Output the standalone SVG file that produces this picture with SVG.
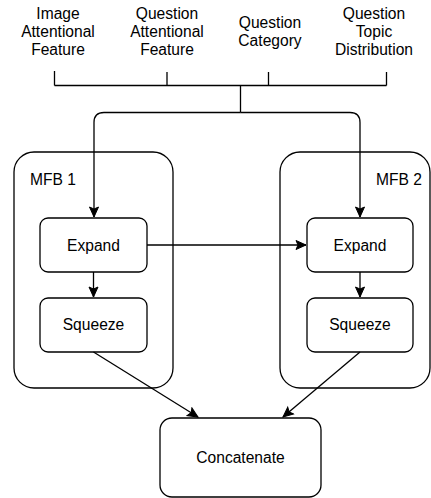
<svg xmlns="http://www.w3.org/2000/svg" width="431" height="498" viewBox="0 0 431 498">
<style>
text{font-family:"Liberation Sans",Arial,Helvetica,sans-serif;font-size:15.6px;fill:#000}
.c{text-anchor:middle}
.box{fill:#fff;stroke:#000;stroke-width:1.3}
.ln{fill:none;stroke:#000;stroke-width:1.3}
</style>
<defs>
<marker id="ah" markerUnits="userSpaceOnUse" markerWidth="12" markerHeight="12" viewBox="0 0 12 12" refX="11" refY="6" orient="auto">
<path d="M1 1.5 L11 6 L1 10.5 L3 6 Z" fill="#000" stroke="#000" stroke-width="1"/>
</marker>
</defs>
<rect width="431" height="498" fill="#fff"/>
<g id="label-image">
<text class="c" x="58" y="19">Image</text>
<text class="c" x="58" y="37">Attentional</text>
<text class="c" x="58" y="55">Feature</text>
</g>
<g id="label-question">
<text class="c" x="167" y="19">Question</text>
<text class="c" x="167" y="37">Attentional</text>
<text class="c" x="167" y="55">Feature</text>
</g>
<g id="label-category">
<text class="c" x="270" y="28">Question</text>
<text class="c" x="270" y="46">Category</text>
</g>
<g id="label-topic">
<text class="c" x="374" y="19">Question</text>
<text class="c" x="374" y="37">Topic</text>
<text class="c" x="374" y="55">Distribution</text>
</g>
<g id="mfb1">
<rect class="box" x="14" y="152" width="159" height="236" rx="20"/>
<text x="30" y="185">MFB 1</text>
</g>
<g id="mfb2">
<rect class="box" x="280" y="152" width="150" height="236" rx="20"/>
<text x="422" y="185" text-anchor="end">MFB 2</text>
</g>
<g id="expand1">
<rect class="box" x="40" y="218" width="107" height="54" rx="8"/>
<text class="c" x="93.5" y="251">Expand</text>
</g>
<g id="squeeze1">
<rect class="box" x="40" y="298" width="107" height="54" rx="8"/>
<text class="c" x="93.5" y="330">Squeeze</text>
</g>
<g id="expand2">
<rect class="box" x="307" y="218" width="106" height="54" rx="8"/>
<text class="c" x="360" y="251">Expand</text>
</g>
<g id="squeeze2">
<rect class="box" x="307" y="298" width="106" height="54" rx="8"/>
<text class="c" x="360" y="330">Squeeze</text>
</g>
<g id="concatenate">
<rect class="box" x="160" y="418" width="161" height="79" rx="12"/>
<text class="c" x="240.5" y="463">Concatenate</text>
</g>
<g id="connectors">
<path class="ln" d="M54.5 71 V85.5 M167 72 V85.5 M268.5 72 V85.5 M386.5 72 V85.5 M54.5 85.5 H386.5 M240.5 85.5 V112.5"/>
<path class="ln" d="M240.5 112.5 H104 Q94 112.5 94 122.5 V217" marker-end="url(#ah)"/>
<path class="ln" d="M240.5 112.5 H350 Q360 112.5 360 122.5 V217" marker-end="url(#ah)"/>
<path class="ln" d="M93.5 272 V297" marker-end="url(#ah)"/>
<path class="ln" d="M360 272 V297" marker-end="url(#ah)"/>
<path class="ln" d="M147 245 H306" marker-end="url(#ah)"/>
<path class="ln" d="M93.5 352 L198 417" marker-end="url(#ah)"/>
<path class="ln" d="M360 352 L283 417" marker-end="url(#ah)"/>
</g>
</svg>
